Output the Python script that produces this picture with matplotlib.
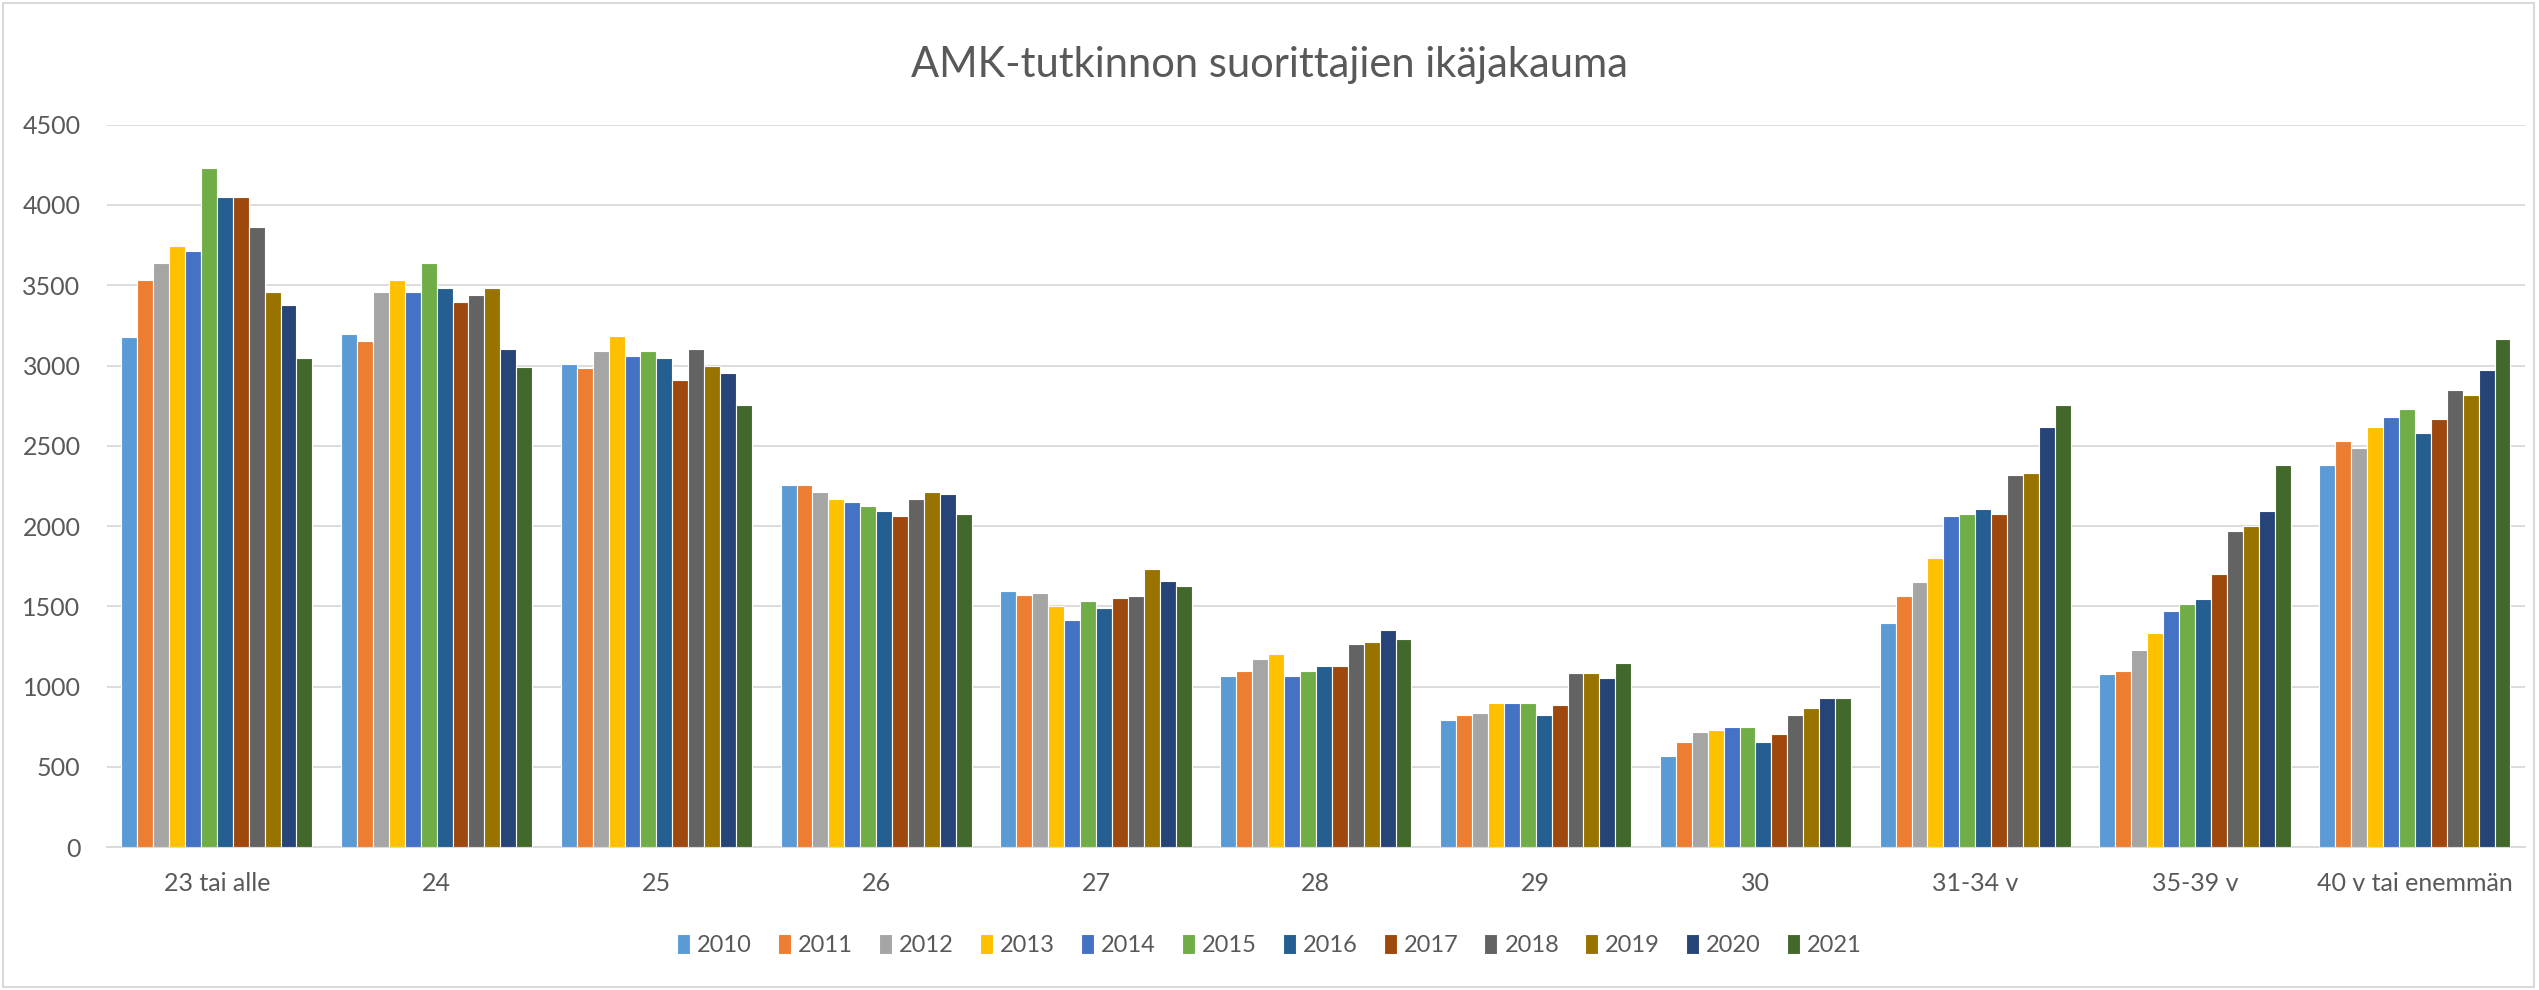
# -*- coding: utf-8 -*-
"""AMK-tutkinnon suorittajien ikäjakauma -- ryhmitelty pylväskaavio"""
import numpy as np
import matplotlib
matplotlib.use("Agg")
import matplotlib.pyplot as plt
from matplotlib.patches import Rectangle

plt.rcParams["font.family"] = ["Lato", "DejaVu Sans"]

categories = ["23 tai alle", "24", "25", "26", "27", "28", "29", "30",
              "31-34 v", "35-39 v", "40 v tai enemmän"]
years = ["2010", "2011", "2012", "2013", "2014", "2015",
         "2016", "2017", "2018", "2019", "2020", "2021"]

# arvot luettu kuvasta, yksi lista per vuosi (järjestys = categories)
v2010 = [3180, 3195, 3012, 2257, 1598, 1065, 792, 567, 1396, 1079, 2378]
v2011 = [3531, 3153, 2986, 2257, 1569, 1096, 823, 656, 1563, 1094, 2528]
v2012 = [3636, 3455, 3090, 2214, 1583, 1173, 838, 717, 1653, 1229, 2485]
v2013 = [3745, 3531, 3182, 2170, 1504, 1202, 900, 731, 1803, 1336, 2620]
v2014 = [3712, 3455, 3061, 2151, 1415, 1065, 900, 748, 2061, 1471, 2681]
v2015 = [4228, 3636, 3090, 2122, 1535, 1096, 900, 748, 2076, 1517, 2727]
v2016 = [4047, 3485, 3044, 2093, 1492, 1127, 823, 656, 2107, 1546, 2577]
v2017 = [4047, 3395, 2908, 2061, 1552, 1127, 885, 702, 2076, 1699, 2666]
v2018 = [3863, 3440, 3104, 2170, 1567, 1263, 1083, 823, 2318, 1972, 2848]
v2019 = [3455, 3485, 2998, 2214, 1733, 1279, 1083, 869, 2332, 2001, 2816]
v2020 = [3380, 3105, 2954, 2197, 1658, 1354, 1052, 929, 2620, 2093, 2969]
v2021 = [3044, 2988, 2756, 2076, 1629, 1294, 1144, 929, 2756, 2378, 3165]

series = [v2010, v2011, v2012, v2013, v2014, v2015,
          v2016, v2017, v2018, v2019, v2020, v2021]

# Excelin Office-väripaletti
colors = ["#5B9BD5", "#ED7D31", "#A5A5A5", "#FFC000", "#4472C4", "#70AD47",
          "#255E91", "#9E480E", "#636363", "#997300", "#264478", "#43682B"]

fig = plt.figure(figsize=(25.39, 9.90), dpi=100)
ax = fig.add_axes([0.0421, 0.1444, 0.9523, 0.7296])

x = np.arange(len(categories))
n = len(series)
group_w = 0.87
w = group_w / n
for i, (vals, col, yr) in enumerate(zip(series, colors, years)):
    offs = -group_w / 2 + w * (i + 0.5)
    ax.bar(x + offs, vals, width=w, color=col, edgecolor="white",
           linewidth=0.8, label=yr, zorder=3)

ax.set_xlim(-0.5, len(categories) - 0.5)
ax.set_ylim(0, 4500)
ax.set_yticks(np.arange(0, 4501, 500))
ax.grid(axis="y", color="#D9D9D9", linewidth=1.3, zorder=0)
ax.set_xticks(x)
ax.set_xticklabels(categories)
ax.tick_params(axis="both", length=0, labelsize=18, colors="#595959")
ax.tick_params(axis="x", pad=18)
ax.tick_params(axis="y", pad=19)
for s in ["top", "right", "left"]:
    ax.spines[s].set_visible(False)
ax.spines["bottom"].set_color("#D9D9D9")
ax.spines["bottom"].set_linewidth(1.3)

fig.text(0.5, 0.934, "AMK-tutkinnon suorittajien ikäjakauma",
         ha="center", va="center", fontsize=30, color="#595959")

leg = fig.legend(loc="center", bbox_to_anchor=(0.5, 0.045), ncol=12,
                 frameon=False, fontsize=17, handlelength=0.55,
                 handleheight=0.9, handletextpad=0.3, columnspacing=1.1)
for t in leg.get_texts():
    t.set_color("#595959")

# kaavion reunaviiva
fig.patches.append(Rectangle((0.001, 0.003), 0.997, 0.994,
                             transform=fig.transFigure, fill=False,
                             edgecolor="#D9D9D9", linewidth=1.5))

fig.savefig("out.png", dpi=100)
